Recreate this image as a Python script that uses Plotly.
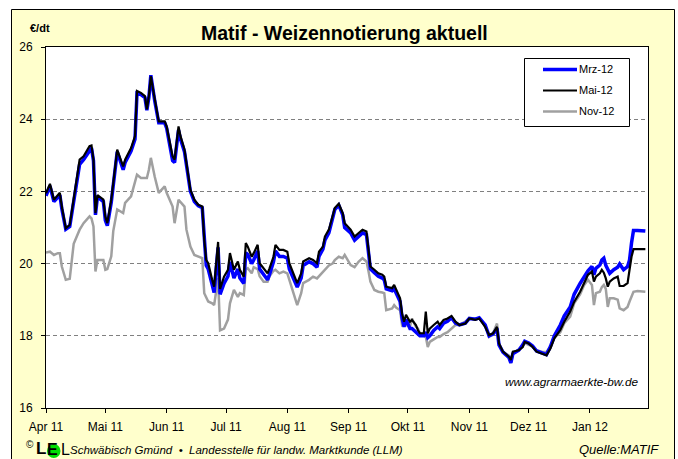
import plotly.graph_objects as go

# ---------------- data ----------------
dates = [
    "2011-04-01", "2011-04-03", "2011-04-05", "2011-04-07", "2011-04-08", "2011-04-09", "2011-04-11",
    "2011-04-13", "2011-04-15", "2011-04-17", "2011-04-18", "2011-04-20", "2011-04-23", "2011-04-24",
    "2011-04-25", "2011-04-26", "2011-04-27", "2011-04-30", "2011-05-01", "2011-05-02", "2011-05-04",
    "2011-05-05", "2011-05-07", "2011-05-10", "2011-05-11", "2011-05-14", "2011-05-16", "2011-05-17",
    "2011-05-19", "2011-05-21", "2011-05-22", "2011-05-23", "2011-05-24", "2011-05-26", "2011-05-27",
    "2011-05-28", "2011-05-31", "2011-06-01", "2011-06-04", "2011-06-05", "2011-06-07", "2011-06-08",
    "2011-06-10", "2011-06-11", "2011-06-13", "2011-06-15", "2011-06-17", "2011-06-19", "2011-06-20",
    "2011-06-21", "2011-06-22", "2011-06-24", "2011-06-25", "2011-06-27", "2011-06-28", "2011-06-30",
    "2011-07-02", "2011-07-03", "2011-07-05", "2011-07-07", "2011-07-08", "2011-07-10", "2011-07-11",
    "2011-07-12", "2011-07-14", "2011-07-15", "2011-07-17", "2011-07-18", "2011-07-20", "2011-07-22",
    "2011-07-23", "2011-07-25", "2011-07-26", "2011-07-28", "2011-07-30", "2011-08-01", "2011-08-02",
    "2011-08-04", "2011-08-06", "2011-08-08", "2011-08-09", "2011-08-12", "2011-08-14", "2011-08-16",
    "2011-08-17", "2011-08-19", "2011-08-20", "2011-08-22", "2011-08-24", "2011-08-25", "2011-08-27",
    "2011-08-29", "2011-08-30", "2011-09-02", "2011-09-04", "2011-09-06", "2011-09-08", "2011-09-10",
    "2011-09-11", "2011-09-12", "2011-09-14", "2011-09-16", "2011-09-18", "2011-09-19", "2011-09-20",
    "2011-09-23", "2011-09-24", "2011-09-25", "2011-09-27", "2011-09-28", "2011-09-29", "2011-09-30",
    "2011-10-02", "2011-10-03", "2011-10-05", "2011-10-06", "2011-10-07", "2011-10-09", "2011-10-10",
    "2011-10-11", "2011-10-12", "2011-10-14", "2011-10-16", "2011-10-17", "2011-10-19", "2011-10-21",
    "2011-10-23", "2011-10-25", "2011-10-27", "2011-10-30", "2011-11-01", "2011-11-04", "2011-11-06",
    "2011-11-09", "2011-11-11", "2011-11-13", "2011-11-15", "2011-11-16", "2011-11-18", "2011-11-21",
    "2011-11-22", "2011-11-23", "2011-11-26", "2011-11-28", "2011-11-29", "2011-12-01", "2011-12-03",
    "2011-12-05", "2011-12-08", "2011-12-10", "2011-12-12", "2011-12-14", "2011-12-17", "2011-12-19",
    "2011-12-22", "2011-12-24", "2011-12-27", "2011-12-29", "2011-12-31", "2012-01-02", "2012-01-03",
    "2012-01-04", "2012-01-06", "2012-01-07", "2012-01-08", "2012-01-09", "2012-01-10", "2012-01-11",
    "2012-01-13", "2012-01-15", "2012-01-16", "2012-01-18", "2012-01-20", "2012-01-21", "2012-01-22",
    "2012-01-23", "2012-01-25", "2012-01-29",
]

mai12 = [
    21.95, 22.21, 21.77, 21.90, 21.96, 21.58, 20.98, 21.07, 21.77, 22.60, 22.88, 22.97, 23.25, 23.27,
    22.88, 21.40, 21.90, 21.77, 21.30, 21.12, 21.77, 22.23, 23.16, 22.69, 22.88, 23.20, 23.53, 24.78,
    24.73, 24.64, 24.27, 24.64, 25.19, 24.55, 24.27, 23.94, 23.94, 23.80, 22.97, 22.88, 23.80, 23.53,
    23.16, 22.79, 22.05, 21.77, 21.63, 21.58, 20.66, 20.10, 20.01, 19.55, 19.36, 20.60, 19.30, 19.64,
    19.83, 20.29, 19.83, 20.06, 19.83, 19.64, 20.57, 20.47, 20.19, 20.29, 20.52, 20.01, 19.87, 19.73,
    19.87, 20.19, 20.52, 20.38, 20.38, 20.33, 20.01, 19.73, 19.46, 19.73, 20.06, 20.15, 20.10, 20.01,
    20.33, 20.47, 20.75, 20.94, 21.31, 21.54, 21.66, 21.40, 21.12, 20.94, 20.75, 20.84, 20.94, 20.89,
    20.43, 19.92, 19.83, 19.73, 19.69, 19.64, 19.36, 19.32, 19.41, 19.27, 19.04, 18.62, 18.39, 18.58,
    18.39, 18.44, 18.30, 18.16, 18.07, 18.07, 18.67, 18.07, 18.20, 18.30, 18.39, 18.30, 18.44, 18.48,
    18.55, 18.39, 18.30, 18.34, 18.48, 18.44, 18.48, 18.25, 18.02, 18.07, 18.25, 17.79, 17.56, 17.42,
    17.33, 17.56, 17.60, 17.69, 17.83, 17.79, 17.69, 17.56, 17.51, 17.46, 17.65, 17.93, 18.16, 18.39,
    18.67, 18.94, 19.22, 19.46, 19.69, 19.78, 19.50, 19.64, 19.73, 19.83, 19.75, 19.59, 19.36, 19.50,
    19.59, 19.64, 19.38, 19.38, 19.46, 19.83, 20.19, 20.40, 20.40, 20.40,
]

mrz12 = [
    21.88, 22.15, 21.72, 21.85, 21.90, 21.52, 20.95, 21.03, 21.70, 22.50, 22.75, 22.88, 23.15, 23.20,
    22.85, 21.35, 21.85, 21.72, 21.20, 21.05, 21.70, 22.15, 23.10, 22.60, 22.80, 23.12, 23.45, 24.72,
    24.68, 24.60, 24.25, 24.60, 25.22, 24.50, 24.20, 23.90, 23.90, 23.75, 22.85, 22.80, 23.70, 23.45,
    23.10, 22.75, 22.00, 21.72, 21.60, 21.55, 20.55, 19.95, 19.85, 19.35, 19.20, 20.45, 19.15, 19.45,
    19.65, 20.05, 19.60, 19.85, 19.60, 19.45, 20.30, 20.25, 20.00, 20.10, 20.35, 19.85, 19.70, 19.55,
    19.70, 20.05, 20.35, 20.20, 20.20, 20.15, 19.85, 19.60, 19.35, 19.60, 19.95, 20.05, 20.00, 19.90,
    20.20, 20.40, 20.65, 20.85, 21.25, 21.50, 21.62, 21.35, 21.00, 20.85, 20.65, 20.75, 20.85, 20.80,
    20.35, 19.85, 19.75, 19.65, 19.60, 19.55, 19.30, 19.25, 19.30, 19.20, 18.95, 18.50, 18.25, 18.45,
    18.20, 18.20, 18.10, 18.05, 18.00, 18.00, 18.10, 17.95, 18.00, 18.15, 18.25, 18.20, 18.35, 18.40,
    18.50, 18.35, 18.30, 18.35, 18.48, 18.46, 18.50, 18.30, 18.00, 18.05, 18.20, 17.75, 17.55, 17.40,
    17.25, 17.50, 17.60, 17.75, 17.85, 17.80, 17.72, 17.58, 17.52, 17.48, 17.70, 18.00, 18.30, 18.55,
    18.80, 19.15, 19.45, 19.65, 19.80, 19.92, 19.69, 19.87, 19.96, 20.10, 20.15, 19.95, 19.83, 19.73,
    19.83, 19.90, 19.99, 19.83, 19.92, 20.10, 20.57, 20.92, 20.92, 20.90,
]

nov12 = [
    20.31, 20.33, 20.24, 20.29, 20.29, 19.92, 19.55, 19.58, 20.55, 20.85, 20.94, 21.12, 21.31, 21.25,
    21.03, 19.78, 20.10, 20.10, 19.83, 19.85, 20.20, 20.90, 21.50, 21.40, 21.68, 21.86, 22.30, 22.46,
    22.37, 22.37, 22.37, 22.60, 22.93, 22.40, 22.20, 21.96, 22.14, 21.96, 21.58, 21.12, 21.77, 21.70,
    21.58, 20.94, 20.47, 20.24, 20.19, 20.15, 19.18, 19.08, 18.95, 18.90, 18.85, 19.60, 18.15, 18.20,
    18.45, 18.90, 19.27, 19.08, 19.18, 19.13, 19.83, 19.87, 19.73, 19.90, 19.85, 19.65, 19.50, 19.50,
    19.65, 19.80, 19.83, 19.73, 19.78, 19.73, 19.55, 19.18, 18.85, 19.18, 19.46, 19.55, 19.64, 19.59,
    19.65, 19.78, 19.85, 19.95, 20.01, 20.10, 20.19, 20.15, 20.24, 19.96, 19.90, 20.05, 20.15, 20.06,
    19.80, 19.50, 19.27, 19.22, 19.20, 19.18, 18.71, 18.76, 18.85, 18.78, 18.71, 18.30, 18.34, 18.30,
    18.25, 18.48, 18.25, 18.20, 18.07, 18.00, 17.97, 17.69, 17.83, 17.90, 17.97, 17.97, 18.05, 18.10,
    18.20, 18.30, 18.30, 18.39, 18.48, 18.48, 18.48, 18.30, 17.97, 18.07, 18.34, 17.79, 17.56, 17.45,
    17.25, 17.50, 17.62, 17.70, 17.80, 17.75, 17.70, 17.60, 17.55, 17.55, 17.70, 17.95, 18.10, 18.35,
    18.53, 18.90, 19.15, 19.40, 19.55, 19.41, 18.85, 19.18, 19.22, 19.35, 19.41, 19.30, 18.80, 19.04,
    19.04, 19.00, 18.76, 18.71, 18.80, 18.95, 19.10, 19.22, 19.24, 19.22,
]

series_names = ["Mrz-12", "Mai-12", "Nov-12"]
tick_dates = ["2011-04-01", "2011-05-01", "2011-06-01", "2011-07-01", "2011-08-01",
              "2011-09-01", "2011-10-01", "2011-11-01", "2011-12-01", "2012-01-01"]
tick_labels = ["Apr 11", "Mai 11", "Jun 11", "Jul 11", "Aug 11",
               "Sep 11", "Okt 11", "Nov 11", "Dez 11", "Jan 12"]
y_ticks = [16, 18, 20, 22, 24, 26]

# ---------------- layout helpers ----------------
W, H = 678, 459
L, R, T, B = 46, 648, 47, 408
FONT = "Arial, Liberation Sans, sans-serif"


def xp(px):
    return (px - L) / (R - L)


def yp(py):
    return (B - py) / (B - T)


BLUE = "#0000FF"
BLACK = "#000000"
GRAY = "#A0A0A0"

fig = go.Figure()
fig.add_trace(go.Scatter(x=dates, y=nov12, name=series_names[2], mode="lines",
                         line=dict(color=GRAY, width=2.5)))
fig.add_trace(go.Scatter(x=dates, y=mrz12, name=series_names[0], mode="lines",
                         line=dict(color=BLUE, width=3.5)))
fig.add_trace(go.Scatter(x=dates, y=mai12, name=series_names[1], mode="lines",
                         line=dict(color=BLACK, width=2.2)))

shapes = [
    # outer yellow frame
    dict(type="rect", xref="paper", yref="paper", layer="below",
         x0=xp(11.5), x1=xp(674.5), y0=yp(480), y1=yp(9.5),
         fillcolor="#FFFFCC", line=dict(color="#000000", width=1)),
    # white plot area
    dict(type="rect", xref="paper", yref="paper", layer="below",
         x0=0, x1=1, y0=0, y1=1, fillcolor="#FFFFFF", line=dict(width=0)),
    # legend box
    dict(type="rect", xref="paper", yref="paper", layer="above",
         x0=xp(524.5), x1=xp(629.5), y0=yp(126.5), y1=yp(58.5),
         fillcolor="#FFFFFF", line=dict(color="#000000", width=1)),
    # logo green circle
    dict(type="circle", xref="paper", yref="paper", layer="above",
         x0=xp(47), x1=xp(60.5), y0=yp(458), y1=yp(444),
         fillcolor="#00DD00", line=dict(width=0)),
]
legend_rows = [(series_names[0], BLUE, 3.5, 69.5), (series_names[1], BLACK, 2.2, 90.5),
               (series_names[2], GRAY, 2.5, 111.5)]
annotations = []
for name, col, wdt, yy in legend_rows:
    shapes.append(dict(type="line", xref="paper", yref="paper", layer="above",
                       x0=xp(543), x1=xp(577), y0=yp(yy), y1=yp(yy),
                       line=dict(color=col, width=wdt)))
    annotations.append(dict(text=name, xref="paper", yref="paper", x=xp(577), y=yp(yy),
                            xanchor="left", yanchor="middle", showarrow=False,
                            font=dict(family=FONT, size=11, color="#000000")))

annotations += [
    dict(text="<b>Matif - Weizennotierung aktuell</b>", xref="paper", yref="paper",
         x=xp(344), y=yp(33), xanchor="center", yanchor="middle", showarrow=False,
         font=dict(family=FONT, size=19.5, color="#000000")),
    dict(text="<b>€/dt</b>", xref="paper", yref="paper", x=xp(28), y=yp(28.5),
         xanchor="left", yanchor="middle", showarrow=False,
         font=dict(family=FONT, size=11, color="#000000")),
    dict(text="<i>www.agrarmaerkte-bw.de</i>", xref="paper", yref="paper", x=xp(503), y=yp(382),
         xanchor="left", yanchor="middle", showarrow=False,
         font=dict(family=FONT, size=11.8, color="#000000")),
    dict(text="<i>Schwäbisch Gmünd  •  Landesstelle für landw. Marktkunde (LLM)</i>",
         xref="paper", yref="paper", x=xp(68), y=yp(450),
         xanchor="left", yanchor="middle", showarrow=False,
         font=dict(family=FONT, size=11.5, color="#000000")),
    dict(text="<i>Quelle:MATIF</i>", xref="paper", yref="paper", x=xp(661), y=yp(449),
         xanchor="right", yanchor="middle", showarrow=False,
         font=dict(family=FONT, size=13, color="#000000")),
    dict(text="©", xref="paper", yref="paper", x=xp(24), y=yp(445),
         xanchor="left", yanchor="middle", showarrow=False,
         font=dict(family=FONT, size=10, color="#000000")),
    dict(text="<b>L</b>", xref="paper", yref="paper", x=xp(35), y=yp(459),
         xanchor="left", yanchor="bottom", showarrow=False, borderpad=0,
         font=dict(family=FONT, size=17, color="#000000")),
    dict(text="<b>E</b>", xref="paper", yref="paper", x=xp(46), y=yp(459),
         xanchor="left", yanchor="bottom", showarrow=False, borderpad=0,
         font=dict(family=FONT, size=16, color="#000000")),
    dict(text="L", xref="paper", yref="paper", x=xp(60), y=yp(459),
         xanchor="left", yanchor="bottom", showarrow=False, borderpad=0,
         font=dict(family=FONT, size=16, color="#000000")),
]

fig.update_layout(
    width=W, height=H, autosize=False,
    margin=dict(l=L, r=W - R, t=T, b=H - B, pad=0),
    paper_bgcolor="#FFFFFF", plot_bgcolor="rgba(0,0,0,0)",
    showlegend=False,
    shapes=shapes, annotations=annotations,
    font=dict(family=FONT, size=12, color="#000000"),
)
fig.update_xaxes(
    type="date", range=["2011-04-01", "2012-01-30 08:00"],
    tickmode="array", tickvals=tick_dates, ticktext=tick_labels,
    ticks="outside", ticklen=4, tickcolor="#000000", tickwidth=1,
    showline=True, linecolor="#000000", linewidth=1, mirror=True,
    showgrid=False, zeroline=False, ticklabelstandoff=4,
    tickfont=dict(family=FONT, size=12, color="#000000"),
)
fig.update_yaxes(
    range=[16, 26], tickmode="array", tickvals=y_ticks, ticktext=[str(v) for v in y_ticks],
    ticks="outside", ticklen=4, tickcolor="#000000", tickwidth=1,
    showline=True, linecolor="#000000", linewidth=1, mirror=True,
    showgrid=True, gridcolor="#808080", gridwidth=1, griddash="4px,3px",
    zeroline=False, ticklabelstandoff=6,
    tickfont=dict(family=FONT, size=12, color="#000000"),
)

fig.write_html("out.html",
               config={"displayModeBar": False},
               post_script="document.body.style.margin='0px';"
                           "document.body.style.overflow='hidden';")
